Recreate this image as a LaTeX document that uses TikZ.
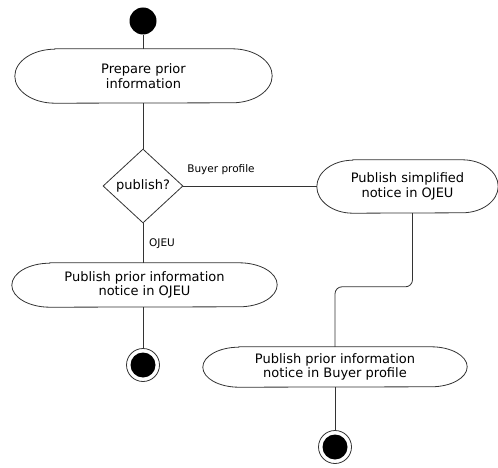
\documentclass[tikz,border=0pt]{standalone}
\usepackage{fontspec}
\setmainfont{DejaVu Sans}
\usetikzlibrary{shapes.geometric}

% outline of an activity: flat top and bottom, elliptic ends
% #1 node, #2 horizontal radius of the ends, #3 half height
\newcommand\activityoutline[3]{%
  \draw[line] ([xshift=#2]#1.north west) -- ([xshift=-#2]#1.north east)
    arc[start angle=90, end angle=-90, x radius=#2, y radius=#3]
    -- ([xshift=#2]#1.south west)
    arc[start angle=270, end angle=90, x radius=#2, y radius=#3] -- cycle;}

\begin{document}
\begin{tikzpicture}[x=1pt,y=1pt,
  line/.style={draw=black!80, line width=0.8pt},
  act/.style={align=center, font=\fontsize{13}{14.5}\selectfont, inner sep=0pt},
  decide/.style={diamond, line, inner sep=0pt, minimum width=80pt,
    minimum height=74pt, font=\fontsize{13}{15}\selectfont},
  startnode/.style={circle, fill=black, inner sep=0pt, minimum size=27pt},
  endnode/.style={circle, line, inner sep=0pt, minimum size=33pt,
    path picture={\fill[black] (path picture bounding box.center) circle (12.5pt);}},
  guard/.style={font=\fontsize{10.5}{12}\selectfont, inner sep=0pt}
]
\useasboundingbox (0,0) rectangle (498,-468);

% nodes
\node[startnode] (start) at (143,-21) {};
\node[act, minimum width=257pt, minimum height=54pt] (prep) at (143.5,-76)
  {Prepare prior\\information};
\node[decide] (dec) at (143,-186) {publish?};
\node[act, minimum width=181pt, minimum height=53pt] (simp) at (407.5,-186.5)
  {Publish simplified\\notice in OJEU};
\node[act, minimum width=265pt, minimum height=44pt] (ojeu) at (144.5,-285)
  {Publish prior information\\notice in OJEU};
\node[act, minimum width=264pt, minimum height=40pt] (buyer) at (335,-367)
  {Publish prior information\\notice in Buyer profile};
\node[endnode] (end1) at (143,-365) {};
\node[endnode] (end2) at (335,-447) {};

\activityoutline{prep}{40pt}{27pt}
\activityoutline{simp}{36pt}{26.5pt}
\activityoutline{ojeu}{38pt}{22pt}
\activityoutline{buyer}{36pt}{20pt}

% guards
\node[guard] (gbuyer) at (221,-170) {Buyer profile};
\node[guard] (gojeu) at (162,-244) {OJEU};

% connectors
\draw[line] (start) -- (start |- prep.north);
\draw[line] (start |- prep.south) -- (dec.north);
\draw[line] (dec.east) -- (dec.east -| simp.west);
\draw[line] (dec.south) -- (dec.south |- ojeu.north);
\draw[line] (dec.south |- ojeu.south) -- (end1);
\draw[line, rounded corners=7pt] ([xshift=5pt]simp.south) |- ([yshift=60pt]buyer.north) -- (buyer.north);
\draw[line] (buyer.south) -- (end2);
\end{tikzpicture}
\end{document}
